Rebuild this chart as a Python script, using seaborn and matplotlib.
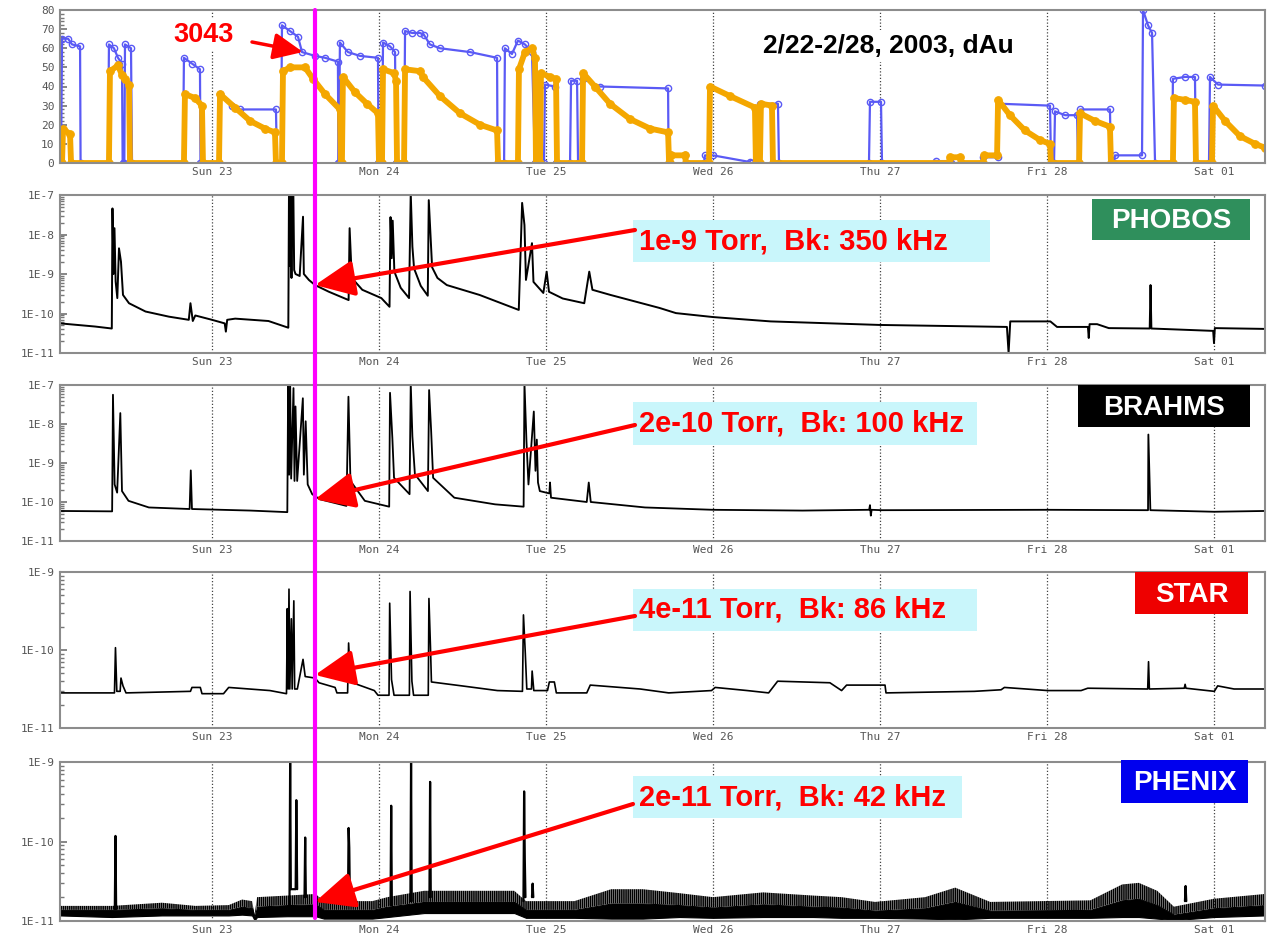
import numpy as np
import pandas as pd
import matplotlib
matplotlib.use("Agg")
import matplotlib.pyplot as plt
import seaborn as sns
from matplotlib.patches import Rectangle, FancyArrowPatch, ArrowStyle
from matplotlib.lines import Line2D
from matplotlib.ticker import FixedLocator, FixedFormatter, MultipleLocator, NullFormatter, LogLocator

# ---------------- data (time in days since Feb 22 00:00) ----------------
day_ticks = [1, 2, 3, 4, 5, 6, 7]
day_labels = ["Sun 23", "Mon 24", "Tue 25", "Wed 26", "Thu 27", "Fri 28", "Sat 01"]

# top panel: two intensity series (blue / orange)
blue_points = [
    (0.09, 0), (0.096, 0), (0.102, 65), (0.138, 65), (0.162, 62), (0.210, 61), (0.213, 0),
    (0.377, 0), (0.383, 62), (0.413, 60), (0.437, 55), (0.461, 52), (0.465, 0), (0.475, 0),
    (0.479, 62), (0.515, 60), (0.521, 0),
    (0.826, 0), (0.832, 55), (0.880, 52), (0.928, 49), (0.931, 0),
    (1.042, 0), (1.048, 36), (1.120, 30), (1.168, 28), (1.383, 28), (1.389, 0),
    (1.413, 0), (1.419, 72), (1.467, 69), (1.515, 66), (1.539, 58), (1.617, 56), (1.677, 55),
    (1.754, 53), (1.757, 0),
    (1.760, 0), (1.766, 63), (1.814, 58), (1.886, 56), (1.994, 55), (1.997, 0),
    (2.018, 0), (2.024, 63), (2.066, 61), (2.096, 58), (2.102, 0),
    (2.150, 0), (2.156, 69), (2.198, 68), (2.246, 68), (2.269, 67), (2.305, 62), (2.365, 60),
    (2.545, 58), (2.707, 55), (2.710, 0),
    (2.749, 0), (2.754, 60), (2.796, 57), (2.832, 64), (2.874, 62), (2.916, 58), (2.934, 0),
    (2.988, 0), (2.994, 41), (3.054, 40), (3.060, 0),
    (3.144, 0), (3.150, 43), (3.186, 43), (3.192, 0),
    (3.216, 0), (3.222, 44), (3.323, 40), (3.731, 39), (3.734, 0),
    (3.743, 0), (3.749, 4), (3.832, 4), (3.838, 0),
    (3.946, 0), (3.952, 4), (4.0, 4), (4.222, 0.5), (4.228, 0),
    (4.275, 0), (4.281, 31), (4.389, 31), (4.395, 0),
    (4.934, 0), (4.940, 32), (5.006, 32), (5.012, 0),
    (5.329, 0), (5.335, 1), (5.419, 1), (5.425, 0),
    (5.611, 0), (5.617, 3), (5.707, 3), (5.713, 31), (6.018, 30), (6.024, 0),
    (6.042, 0), (6.048, 27), (6.108, 25), (6.180, 25), (6.186, 0), (6.192, 0), (6.198, 28),
    (6.377, 28), (6.383, 0),
    (6.401, 0), (6.407, 4), (6.569, 4), (6.575, 80), (6.605, 72), (6.629, 68), (6.647, 0),
    (6.749, 0), (6.754, 44), (6.826, 45), (6.886, 45), (6.892, 0),
    (6.970, 0), (6.976, 45), (7.024, 41), (7.305, 40.5),
]
orange_points = [
    (0.09, 0), (0.102, 0), (0.108, 18), (0.150, 15), (0.156, 0),
    (0.383, 0), (0.389, 48), (0.437, 51), (0.461, 46), (0.479, 44), (0.503, 41), (0.509, 0),
    (0.832, 0), (0.838, 36), (0.898, 34), (0.940, 30), (0.946, 0),
    (1.042, 0), (1.048, 36), (1.138, 29), (1.228, 22), (1.317, 18), (1.377, 16), (1.383, 0),
    (1.419, 0), (1.425, 48), (1.467, 50), (1.557, 50), (1.605, 44), (1.677, 36), (1.766, 28), (1.772, 0),
    (1.778, 0), (1.784, 45), (1.856, 37), (1.928, 31), (1.994, 26), (2.0, 0),
    (2.018, 0), (2.024, 49), (2.090, 47), (2.102, 43), (2.108, 0),
    (2.150, 0), (2.156, 49), (2.246, 48), (2.263, 45), (2.365, 35), (2.485, 26), (2.605, 20),
    (2.707, 17), (2.713, 0),
    (2.832, 0), (2.838, 49), (2.874, 58), (2.916, 60), (2.934, 55), (2.940, 0),
    (2.964, 0), (2.970, 47), (3.024, 45), (3.060, 44), (3.066, 0),
    (3.216, 0), (3.222, 47), (3.293, 40), (3.383, 31), (3.503, 23), (3.623, 18), (3.731, 16), (3.737, 0),
    (3.743, 0), (3.749, 4), (3.832, 4), (3.838, 0),
    (3.976, 0), (3.982, 40), (4.102, 35), (4.251, 29), (4.257, 0),
    (4.281, 0), (4.287, 31), (4.353, 30), (4.359, 0),
    (5.413, 0), (5.419, 3), (5.479, 3), (5.485, 0),
    (5.617, 0), (5.623, 4), (5.701, 4), (5.707, 33), (5.778, 25), (5.868, 17), (5.958, 12),
    (6.018, 10), (6.024, 0),
    (6.192, 0), (6.198, 26), (6.287, 22), (6.377, 19), (6.383, 0),
    (6.754, 0), (6.760, 34), (6.826, 33), (6.886, 32), (6.892, 0),
    (6.988, 0), (6.994, 30), (7.066, 22), (7.156, 14), (7.246, 10), (7.305, 8),
]

# vacuum pressure, log10(Torr)
phobos_log = [
    (0.09, -10.25), (0.30, -10.33), (0.40, -10.38), (0.404, -7.34), (0.410, -9.0), (0.416, -7.84),
    (0.423, -9.19), (0.433, -9.61), (0.443, -8.35), (0.455, -8.69), (0.467, -9.53), (0.503, -9.74),
    (0.602, -9.95), (0.742, -10.08), (0.861, -10.16), (0.871, -9.74), (0.885, -10.19), (0.90, -10.05),
    (1.0, -10.16), (1.076, -10.25), (1.083, -10.46), (1.091, -10.16), (1.139, -10.13), (1.338, -10.19),
    (1.457, -10.36), (1.461, -6.9), (1.466, -8.8), (1.471, -6.9), (1.476, -9.1), (1.481, -6.9),
    (1.487, -6.9), (1.492, -8.9), (1.50, -9.0), (1.525, -9.05), (1.545, -7.55), (1.55, -9.0),
    (1.58, -9.15), (1.617, -9.28), (1.70, -9.45), (1.818, -9.66), (1.824, -7.84), (1.837, -9.1),
    (1.90, -9.4), (2.014, -9.61), (2.063, -9.83), (2.069, -7.56), (2.076, -8.6), (2.082, -7.65),
    (2.092, -8.94), (2.13, -9.35), (2.180, -9.61), (2.190, -6.95), (2.2, -8.31), (2.21, -8.86),
    (2.25, -9.3), (2.292, -9.55), (2.298, -7.13), (2.318, -8.83), (2.35, -9.1), (2.406, -9.28),
    (2.602, -9.53), (2.837, -9.91), (2.857, -7.2), (2.871, -7.76), (2.880, -9.15), (2.916, -8.22),
    (2.925, -9.2), (2.984, -9.48), (3.004, -8.94), (3.018, -9.45), (3.1, -9.62), (3.229, -9.74),
    (3.259, -8.94), (3.278, -9.4), (3.386, -9.53), (3.680, -9.86), (3.778, -9.99), (4.0, -10.09),
    (4.345, -10.2), (5.0, -10.29), (5.76, -10.34), (5.77, -11.0), (5.78, -10.2), (6.02, -10.2),
    (6.06, -10.34), (6.245, -10.34), (6.25, -10.62), (6.255, -10.27), (6.30, -10.27), (6.37, -10.37),
    (6.615, -10.38), (6.62, -9.28), (6.625, -10.38), (6.995, -10.44), (7.0, -10.75), (7.005, -10.37),
    (7.305, -10.39),
]
brahms_log = [
    (0.09, -10.23), (0.402, -10.24), (0.407, -7.25), (0.417, -9.55), (0.432, -9.76), (0.451, -7.72),
    (0.461, -9.72), (0.5, -9.97), (0.622, -10.14), (0.866, -10.18), (0.873, -9.19), (0.88, -10.18),
    (1.232, -10.22), (1.451, -10.26), (1.456, -6.9), (1.462, -9.3), (1.468, -6.9), (1.474, -9.4),
    (1.488, -7.08), (1.494, -9.46), (1.5, -7.55), (1.51, -9.46), (1.544, -7.34), (1.55, -9.3),
    (1.561, -7.93), (1.573, -9.55), (1.6, -9.8), (1.646, -9.93), (1.805, -10.1), (1.817, -7.3),
    (1.829, -9.46), (1.915, -9.97), (2.061, -10.12), (2.066, -7.2), (2.08, -8.36), (2.09, -9.38),
    (2.183, -9.8), (2.19, -6.95), (2.2, -8.32), (2.215, -9.29), (2.293, -9.72), (2.3, -7.13),
    (2.312, -8.15), (2.324, -9.38), (2.451, -9.89), (2.695, -10.06), (2.866, -10.12), (2.871, -6.95),
    (2.883, -8.44), (2.895, -9.55), (2.927, -7.68), (2.937, -9.2), (2.945, -8.4), (2.952, -9.5),
    (2.963, -9.72), (3.02, -9.78), (3.024, -9.5), (3.03, -9.89), (3.244, -10.0), (3.256, -9.5),
    (3.268, -10.0), (3.593, -10.14), (4.0, -10.2), (4.536, -10.22), (4.935, -10.2), (4.94, -10.08),
    (4.945, -10.35), (4.95, -10.2), (5.012, -10.21), (6.0, -10.2), (6.605, -10.21), (6.607, -8.27),
    (6.619, -10.21), (7.0, -10.25), (7.305, -10.23),
]
star_log = [
    (0.09, -10.55), (0.416, -10.55), (0.422, -9.97), (0.430, -10.53), (0.450, -10.53), (0.455, -10.36),
    (0.467, -10.46), (0.485, -10.55), (0.871, -10.53), (0.88, -10.48), (0.93, -10.48), (0.94, -10.56),
    (1.069, -10.56), (1.10, -10.48), (1.347, -10.52), (1.446, -10.56), (1.451, -9.47), (1.456, -10.5),
    (1.461, -9.22), (1.466, -10.5), (1.475, -9.6), (1.48, -10.5), (1.49, -9.37), (1.495, -10.5),
    (1.511, -10.5), (1.545, -10.12), (1.558, -10.34), (1.617, -10.36), (1.641, -10.42), (1.737, -10.48),
    (1.748, -10.55), (1.812, -10.55), (1.818, -9.91), (1.829, -10.41), (1.972, -10.52), (1.994, -10.58),
    (2.06, -10.58), (2.064, -9.4), (2.075, -10.38), (2.09, -10.58), (2.182, -10.58), (2.186, -9.25),
    (2.197, -10.4), (2.207, -10.58), (2.295, -10.58), (2.299, -9.34), (2.308, -9.95), (2.314, -10.41),
    (2.496, -10.46), (2.709, -10.52), (2.859, -10.53), (2.865, -9.55), (2.876, -10.04), (2.885, -10.5),
    (2.913, -10.5), (2.917, -10.27), (2.927, -10.52), (3.009, -10.52), (3.02, -10.41), (3.05, -10.41),
    (3.062, -10.55), (3.244, -10.55), (3.265, -10.45), (3.564, -10.5), (3.735, -10.55), (3.991, -10.52),
    (4.013, -10.48), (4.205, -10.52), (4.333, -10.55), (4.387, -10.4), (4.7, -10.42), (4.77, -10.52),
    (4.8, -10.45), (5.03, -10.45), (5.036, -10.55), (5.565, -10.53), (5.725, -10.51), (5.745, -10.48),
    (6.004, -10.52), (6.204, -10.52), (6.244, -10.49), (6.603, -10.5), (6.608, -10.15), (6.613, -10.5),
    (6.822, -10.49), (6.827, -10.44), (6.832, -10.49), (7.002, -10.53), (7.022, -10.46), (7.12, -10.5),
    (7.305, -10.5),
]
# PHENIX: noisy baseline (dense core + upper excursions) and spikes
phenix_band_t = [0.09, 0.40, 0.70, 0.90, 1.10, 1.18, 1.24, 1.255, 1.27, 1.45, 1.62, 1.67, 1.96, 2.05,
                 2.27, 2.81, 2.88, 3.17, 3.39, 3.58, 3.80, 4.00, 4.30, 4.60, 4.77, 4.97, 5.27, 5.45,
                 5.66, 6.26, 6.45, 6.55, 6.66, 6.76, 7.00, 7.305]
phenix_band_hi = [-10.81, -10.81, -10.77, -10.81, -10.80, -10.73, -10.75, -10.92, -10.70, -10.68,
                  -10.66, -10.75, -10.75, -10.70, -10.62, -10.62, -10.75, -10.75, -10.60, -10.60,
                  -10.65, -10.70, -10.64, -10.68, -10.70, -10.76, -10.70, -10.58, -10.76, -10.74,
                  -10.54, -10.52, -10.62, -10.82, -10.72, -10.66]
phenix_core_hi = [-10.86, -10.86, -10.84, -10.86, -10.86, -10.82, -10.84, -10.95, -10.82, -10.80,
                  -10.79, -10.86, -10.86, -10.82, -10.76, -10.76, -10.86, -10.86, -10.78, -10.78,
                  -10.80, -10.83, -10.79, -10.82, -10.83, -10.87, -10.84, -10.76, -10.87, -10.86,
                  -10.74, -10.72, -10.80, -10.92, -10.84, -10.80]
phenix_band_lo = [-10.93, -10.95, -10.93, -10.93, -10.93, -10.92, -10.93, -10.99, -10.95, -10.94,
                  -10.94, -10.97, -10.97, -10.95, -10.90, -10.90, -10.96, -10.96, -10.97, -10.97,
                  -10.95, -10.96, -10.95, -10.95, -10.96, -10.96, -10.97, -10.98, -10.96, -10.96,
                  -10.95, -10.95, -10.97, -10.99, -10.95, -10.93]
phenix_spikes = [
    [(0.418, -10.85), (0.422, -9.93), (0.426, -10.85)],
    [(1.464, -10.8), (1.468, -9.0), (1.472, -10.6), (1.501, -10.6), (1.505, -9.48), (1.51, -10.6)],
    [(1.554, -10.7), (1.558, -9.95), (1.562, -10.7)],
    [(1.814, -10.8), (1.818, -9.83), (1.822, -10.08), (1.826, -10.8)],
    [(2.069, -10.8), (2.073, -9.55), (2.077, -10.8)],
    [(2.188, -10.75), (2.192, -9.0), (2.196, -10.75)],
    [(2.302, -10.7), (2.306, -9.25), (2.31, -10.7)],
    [(2.865, -10.75), (2.869, -9.37), (2.873, -10.22), (2.877, -10.7)],
    [(2.916, -10.7), (2.92, -10.53), (2.924, -10.7)],
    [(6.826, -10.75), (6.83, -10.56), (6.834, -10.75)],
]

experiments = ["PHOBOS", "BRAHMS", "STAR", "PHENIX"]
exp_colors = ["#2f8f5c", "#000000", "#ee0000", "#0000ee"]
notes = ["1e-9 Torr,  Bk: 350 kHz", "2e-10 Torr,  Bk: 100 kHz",
         "4e-11 Torr,  Bk: 86 kHz", "2e-11 Torr,  Bk: 42 kHz"]
fill_time = 1.617           # marked fill (3043)
arrow_tip_log = [-9.28, -9.93, -10.32, -10.76]
title_text = "2/22-2/28, 2003, dAu"
fill_label = "3043"

# ---------------- layout helpers ----------------
W, H = 1270, 942
sns.set_theme(style="white")
plt.rcParams["font.family"] = ["Liberation Sans", "DejaVu Sans"]
plt.rcParams["hatch.linewidth"] = 1.2

fig = plt.figure(figsize=(W / 100, H / 100), dpi=100)
fig.patch.set_facecolor("white")


def fx(px):
    return px / W


def fy(py):
    return 1 - py / H


T0, T1 = 1 - 152 / 167, 1 + 1053 / 167
L, R = 60, 1265


def make_ax(top, bottom):
    return fig.add_axes([fx(L), fy(bottom), fx(R) - fx(L), fy(top) - fy(bottom)])


ax_top = make_ax(10, 163)
ax_ph = make_ax(195, 353)
ax_br = make_ax(385, 541)
ax_st = make_ax(572, 728)
ax_pn = make_ax(762, 921)

tick_font = dict(family="DejaVu Sans Mono", size=8, color="#555555")


def style(ax):
    ax.set_xlim(T0, T1)
    ax.set_xticks(day_ticks)
    ax.set_xticklabels(day_labels, **tick_font)
    ax.tick_params(axis="x", length=0, pad=3)
    for d in day_ticks:
        ax.axvline(d, color="#444444", ls=(0, (1, 1.6)), lw=0.9, zorder=0)
    for s in ax.spines.values():
        s.set_color("#8c8c8c")
        s.set_linewidth(1.5)
        s.set_visible(True)
    ax.grid(False)
    ax.set_xlabel("")
    ax.set_ylabel("")
    ax.tick_params(axis="y", which="both", direction="in", color="#777777", left=True)
    ax.tick_params(axis="y", which="major", length=5, pad=4)
    ax.tick_params(axis="y", which="minor", length=3)


def draw_line(ax, pts, **kw):
    df = pd.DataFrame(pts, columns=["t", "v"])
    sns.lineplot(data=df, x="t", y="v", ax=ax, sort=False, estimator=None, **kw)


# ---- top panel ----
draw_line(ax_top, blue_points, color="#5a5af5", lw=1.6, marker="o", markersize=4.5,
          markerfacecolor="none", markeredgecolor="#5a5af5", markeredgewidth=1.0)
draw_line(ax_top, orange_points, color="#f4a700", lw=4.2, marker="o", markersize=5.5,
          markeredgecolor="#f4a700", markerfacecolor="#f4a700")
ax_top.set_ylim(0, 80)
style(ax_top)
ax_top.yaxis.set_major_locator(MultipleLocator(10))
ax_top.yaxis.set_minor_locator(MultipleLocator(2))
ax_top.set_yticks(range(0, 81, 10))
ax_top.set_yticklabels([str(v) for v in range(0, 81, 10)], **tick_font)


# ---- log panels ----
def log_panel(ax, pts, lo, hi, labels, lw=1.4):
    if pts is not None:
        draw_line(ax, [(t, 10 ** v) for t, v in pts], color="black", lw=lw)
    ax.set_yscale("log")
    ax.set_ylim(10.0 ** lo, 10.0 ** hi)
    style(ax)
    majors = [10.0 ** e for e in range(lo, hi + 1)]
    ax.yaxis.set_major_locator(FixedLocator(majors))
    ax.yaxis.set_major_formatter(FixedFormatter(labels))
    ax.yaxis.set_minor_locator(LogLocator(base=10, subs=np.arange(2, 10)))
    ax.yaxis.set_minor_formatter(NullFormatter())
    for lab in ax.get_yticklabels():
        lab.set_fontfamily("DejaVu Sans Mono")
        lab.set_fontsize(8)
        lab.set_color("#555555")


log_panel(ax_ph, phobos_log, -11, -7, ["1E-11", "1E-10", "1E-9", "1E-8", "1E-7"])
log_panel(ax_br, brahms_log, -11, -7, ["1E-11", "1E-10", "1E-9", "1E-8", "1E-7"], lw=1.3)
log_panel(ax_st, star_log, -11, -9, ["1E-11", "1E-10", "1E-9"], lw=1.2)

p_lo = [10 ** v for v in phenix_band_lo]
p_core = [10 ** v for v in phenix_core_hi]
p_hi = [10 ** v for v in phenix_band_hi]
ax_pn.fill_between(phenix_band_t, p_lo, p_core, color="black", lw=0.8)
ax_pn.fill_between(phenix_band_t, p_core, p_hi, facecolor="none", edgecolor="black",
                   hatch="||||||||", lw=0)
spk = pd.DataFrame([(i, t, 10 ** v) for i, s in enumerate(phenix_spikes) for t, v in s],
                   columns=["id", "t", "v"])
sns.lineplot(data=spk, x="t", y="v", units="id", estimator=None, sort=False, ax=ax_pn,
             color="black", lw=1.6)
log_panel(ax_pn, None, -11, -9, ["1E-11", "1E-10", "1E-9"])

# ---------------- annotations ----------------
axes_list = [ax_ph, ax_br, ax_st, ax_pn]
note_boxes = [(633, 220, 990, 262), (633, 402, 977, 445), (633, 589, 977, 631), (633, 776, 962, 818)]
arrow_starts = [(635, 230), (635, 425), (635, 616), (633, 804)]
label_boxes = [(1092, 199, 1250, 240), (1078, 385, 1250, 427), (1135, 572, 1248, 614), (1121, 760, 1248, 803)]


def rect(box, color, z=5):
    x0, y0, x1, y1 = box
    fig.add_artist(Rectangle((fx(x0), fy(y1)), fx(x1) - fx(x0), fy(y0) - fy(y1),
                             transform=fig.transFigure, facecolor=color, edgecolor="none", zorder=z))


inv = fig.transFigure.inverted()
mag_x = inv.transform(ax_top.transData.transform((fill_time, 0)))[0]
fig.add_artist(Line2D([mag_x, mag_x], [fy(10), fy(918)], color="#ff00ff", lw=3.0,
                      transform=fig.transFigure, zorder=6))

for ax, note, box, start, tip, name, col, lbox in zip(axes_list, notes, note_boxes, arrow_starts,
                                                       arrow_tip_log, experiments, exp_colors, label_boxes):
    rect(box, "#c9f6fb")
    fig.text(fx(box[0] + 6), (fy(box[1]) + fy(box[3])) / 2, note, color="#ff0000", fontsize=21,
             fontweight="bold", ha="left", va="center", zorder=8)
    tip_fig = inv.transform(ax.transData.transform((fill_time, 10 ** tip)))
    arr = FancyArrowPatch((fx(start[0]), fy(start[1])), tuple(tip_fig), transform=fig.transFigure,
                          arrowstyle=ArrowStyle("-|>", head_length=1.1, head_width=0.5),
                          mutation_scale=22, color="#ff0000", lw=3.0, shrinkA=0, shrinkB=0, zorder=7)
    fig.add_artist(arr)
    rect(lbox, col)
    fig.text((fx(lbox[0]) + fx(lbox[2])) / 2, (fy(lbox[1]) + fy(lbox[3])) / 2 - 0.002, name,
             color="white", fontsize=20, fontweight="bold", ha="center", va="center", zorder=8)

fig.text(fx(204), fy(35), fill_label, color="#ff0000", fontsize=19.5, fontweight="bold",
         ha="center", va="center", zorder=8,
         bbox=dict(facecolor="white", edgecolor="none", pad=2))
fig.add_artist(FancyArrowPatch((fx(252), fy(42)), (fx(303), fy(52)), transform=fig.transFigure,
                               arrowstyle=ArrowStyle("-|>", head_length=1.0, head_width=0.45),
                               mutation_scale=18, color="#ff0000", lw=2.5, shrinkA=0, shrinkB=0, zorder=7))
fig.text(fx(888), fy(46), title_text, color="black", fontsize=19, fontweight="bold",
         ha="center", va="center", zorder=8,
         bbox=dict(facecolor="white", edgecolor="none", pad=3))

fig.savefig("out.png", dpi=100)
